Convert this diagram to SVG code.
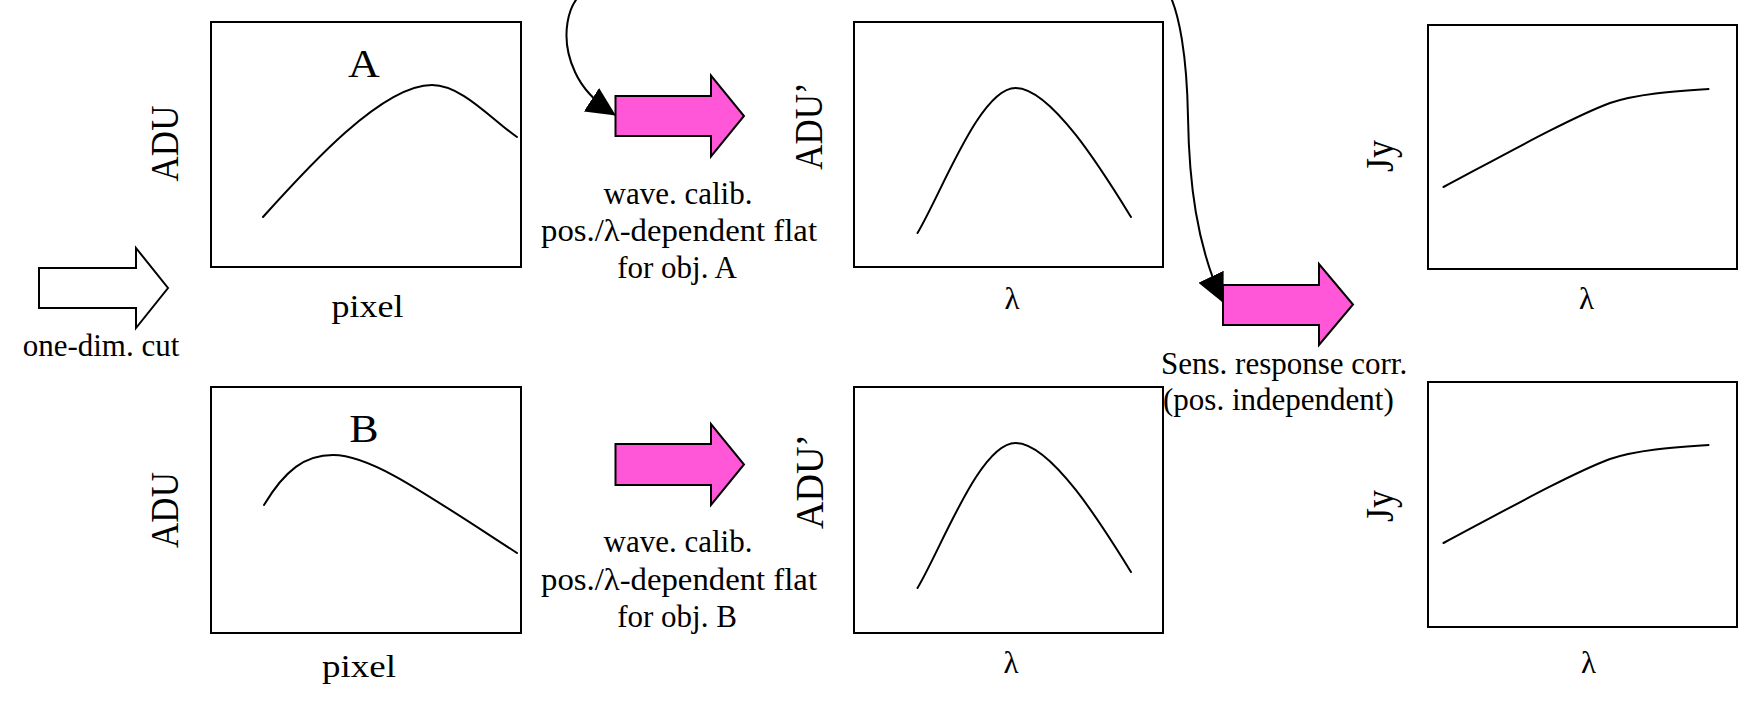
<svg xmlns="http://www.w3.org/2000/svg" width="1753" height="701" viewBox="0 0 1753 701">
<style>
.bg{fill:#fff}
.box{fill:#fff;stroke:#000;stroke-width:2}
.crv{fill:none;stroke:#000;stroke-width:2;stroke-linecap:round}
.pink{fill:#ff57d8;stroke:#000;stroke-width:2;stroke-linejoin:miter}
.hollow{fill:#fff;stroke:#000;stroke-width:2}
.conn{fill:none;stroke:#000;stroke-width:2}
.t{font-family:"Liberation Serif","Times New Roman",serif;fill:#000;font-size:31px;text-anchor:middle}
.lbl{font-size:40px}
.ax{font-size:35px}
.axp{font-size:35px}
.jy{font-size:36px}
</style>
<defs>
<marker id="ah" markerUnits="userSpaceOnUse" viewBox="0 0 29 28" refX="28" refY="14" markerWidth="29" markerHeight="28" orient="auto">
<path d="M0,0 L29,14 L0,28 Z" fill="#000"/>
</marker>
</defs>
<rect class="bg" x="0" y="0" width="1753" height="701"/>

<g id="plot-A">
<rect class="box" x="211" y="22" width="310" height="245"/>
<path class="crv" d="M263,217 C308,167 382,85 432,85 C462,85 492,120 517,137"/>
<text class="t lbl" transform="translate(364,77) scale(1.1,1)">A</text>
<text class="t ax" transform="translate(178,143.5) scale(1.14,1) rotate(-90)">ADU</text>
<text class="t" x="367.5" y="317" textLength="72" lengthAdjust="spacingAndGlyphs">pixel</text>
</g>

<g id="plot-B">
<rect class="box" x="211" y="387" width="310" height="246"/>
<path class="crv" d="M264,505 C285,470 305,455 333,455 C370,455 420,490 517,553"/>
<text class="t lbl" transform="translate(364,442) scale(1.1,1)">B</text>
<text class="t ax" transform="translate(178,510) scale(1.14,1) rotate(-90)">ADU</text>
<text class="t" x="359" y="677" textLength="74" lengthAdjust="spacingAndGlyphs">pixel</text>
</g>

<g id="plot-A-wave">
<rect class="box" x="854" y="22" width="309" height="245"/>
<path class="crv" d="M917.5,233 C942,192 980,88 1015.5,88 C1052,88 1105,175 1131,217"/>
<text class="t axp" transform="translate(822,126) scale(1.12,1) rotate(-90)">ADU’</text>
<text class="t" x="1012" y="309">λ</text>
</g>

<g id="plot-B-wave">
<rect class="box" x="854" y="387" width="309" height="246"/>
<path class="crv" d="M917.5,588 C942,547 980,443 1015.5,443 C1052,443 1105,530 1131,572"/>
<text class="t axp" style="font-size:38px" transform="translate(823,481.5) scale(1.05,1) rotate(-90)">ADU’</text>
<text class="t" x="1011" y="673">λ</text>
</g>

<g id="plot-A-jy">
<rect class="box" x="1428" y="25" width="309" height="244"/>
<path class="crv" d="M1443.5,187 C1500,157 1570,118 1610,103 C1640,93 1680,91 1708.5,89"/>
<text class="t jy" transform="translate(1393,156) scale(1.1,1) rotate(-90)">Jy</text>
<text class="t" x="1586.5" y="309">λ</text>
</g>

<g id="plot-B-jy">
<rect class="box" x="1428" y="382" width="309" height="245"/>
<path class="crv" d="M1443.5,543 C1500,513 1570,474 1610,459 C1640,449 1680,447 1708.5,445"/>
<text class="t jy" transform="translate(1393,506) scale(1.1,1) rotate(-90)">Jy</text>
<text class="t" x="1588.5" y="673">λ</text>
</g>

<g id="step-cut">
<polygon class="hollow" points="39,268 136,268 136,248 168,288 136,328 136,308 39,308"/>
<text class="t" x="101" y="356">one-dim. cut</text>
</g>

<g id="step-wave-A">
<polygon class="pink" points="615.5,96 711,96 711,75.5 744,116 711,156.5 711,136 615.5,136"/>
<text class="t" x="678" y="204">wave. calib.</text>
<text class="t" x="679" y="241" textLength="276" lengthAdjust="spacingAndGlyphs">pos./λ-dependent flat</text>
<text class="t" x="677" y="278">for obj. A</text>
</g>

<g id="step-wave-B">
<polygon class="pink" points="615.5,444 711,444 711,424 744,464.5 711,505 711,485 615.5,485"/>
<text class="t" x="678" y="552">wave. calib.</text>
<text class="t" x="679" y="590" textLength="276" lengthAdjust="spacingAndGlyphs">pos./λ-dependent flat</text>
<text class="t" x="677" y="627">for obj. B</text>
</g>

<g id="step-sens">
<polygon class="pink" points="1223,285 1319,285 1319,264 1353,304.5 1319,345 1319,325 1223,325"/>
<text class="t" x="1161" y="374" style="text-anchor:start">Sens. response corr.</text>
<text class="t" x="1163" y="410" style="text-anchor:start">(pos. independent)</text>
</g>

<g id="connectors">
<path class="conn" marker-end="url(#ah)" d="M590,-12 C565,0 560,40 575,72 C583,90 598,104 615,115"/>
<path class="conn" marker-end="url(#ah)" d="M1166,-12 C1180,10 1187,60 1188,117 C1189,180 1196,245 1223,302"/>
</g>
</svg>
